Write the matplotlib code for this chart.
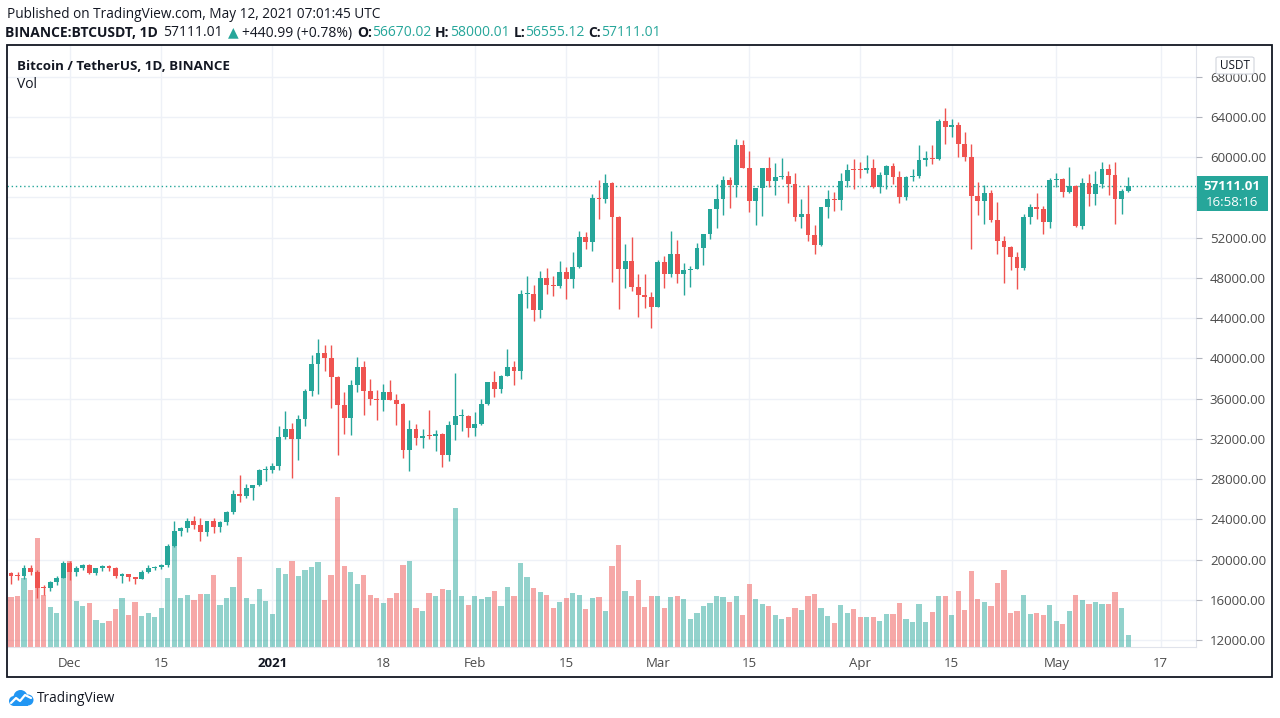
import matplotlib
matplotlib.use("Agg")
import matplotlib.pyplot as plt
import numpy as np
import pandas as pd
from matplotlib.patches import Rectangle, FancyBboxPatch, Circle
from matplotlib.ticker import FuncFormatter
from matplotlib.transforms import blended_transform_factory

# ---------------- data ----------------
DATES = pd.date_range("2020-11-22", "2021-05-12", freq="D")

OPEN = [18651, 18370, 18365, 19149, 18720, 17150, 17139, 17719, 18185, 19696,
        18765, 19205, 19422, 18650, 19148, 19359, 19167, 18324, 18541, 18254,
        18036, 18808, 19175, 19274, 19426, 21335, 22797, 23108, 23821, 23455,
        22719, 23810, 23233, 23733, 24712, 26493, 26281, 27079, 27385, 28876,
        28924, 29332, 32177, 33000, 31989, 33950, 36770, 39432, 40586, 40088,
        38150, 35410, 34049, 37371, 39145, 36737, 35995, 35824, 36622, 35901,
        35468, 30851, 32950, 32078, 32259, 32251, 32464, 30362, 33368, 34246,
        34262, 33092, 33518, 35466, 37618, 36936, 38289, 39181, 38795, 46374,
        46420, 44807, 47969, 47298, 47156, 48581, 47911, 49133, 52118, 51553,
        55906, 55841, 57413, 54087, 48892, 49676, 47074, 46277, 46103, 45134,
        49596, 48436, 50349, 48374, 48747, 48882, 50960, 52376, 54874, 55851,
        57773, 57221, 61188, 58976, 55606, 56900, 58912, 57641, 58030, 58100,
        57352, 54083, 54342, 52303, 51293, 55025, 55818, 55777, 57635, 58760,
        58740, 58720, 58950, 57051, 58202, 59129, 57991, 56000, 58034, 58102,
        59774, 59965, 59835, 63576, 62959, 63159, 61334, 60006, 56150, 55664,
        56425, 53787, 51690, 51110, 50047, 49004, 54021, 55033, 54825, 53555,
        57697, 57797, 56578, 57169, 53205, 57436, 56393, 57315, 58866, 58240,
        55816, 56670.02]
HIGH = [18750, 18773, 19418, 19484, 18915, 17457, 17853, 18344, 19863, 19888,
        19342, 19566, 19512, 19177, 19420, 19420, 19294, 18650, 18557, 18292,
        18948, 19411, 19349, 19570, 21560, 23800, 23285, 24171, 24295, 24102,
        23837, 24100, 23789, 24789, 26867, 28422, 27500, 27400, 28997, 29300,
        29600, 33300, 34778, 33600, 34360, 36939, 40365, 41950, 41380, 41350,
        38264, 36628, 37850, 40100, 39747, 37950, 36852, 37469, 37850, 36415,
        35600, 33826, 33456, 32944, 34880, 32921, 32557, 33783, 38531, 34933,
        34342, 34717, 35984, 37662, 38708, 38310, 40955, 39700, 46794, 48200,
        47310, 48678, 48985, 48150, 49707, 49083, 50600, 52618, 52530, 56368,
        57767, 58352, 57534, 54183, 51374, 52041, 48424, 48394, 46638, 49790,
        50200, 52640, 51773, 49448, 49200, 51450, 52402, 54900, 57387, 58150,
        58081, 61844, 61724, 60633, 56938, 58978, 60000, 59468, 59880, 58589,
        58430, 55830, 57200, 53230, 55073, 56700, 56559, 58405, 59368, 59800,
        59490, 60200, 59791, 58500, 59251, 59474, 58650, 58153, 58869, 61217,
        60658, 61200, 63777, 64854, 63800, 63520, 62506, 61286, 57526, 57200,
        56757, 55521, 52130, 51200, 50591, 54400, 55400, 56428, 55200, 57963,
        58458, 57911, 58981, 57200, 57911, 58360, 58650, 59500, 59300, 59500,
        56862, 58000.01]
LOW = [17610, 18000, 18018, 18500, 16188, 16438, 16865, 17517, 18179, 18001,
       18330, 18925, 18577, 18500, 18857, 18902, 18200, 17650, 17911, 17572,
       18020, 18711, 19000, 19050, 19278, 21230, 22350, 22750, 23060, 21815,
       22353, 22600, 22704, 23433, 24500, 25700, 26101, 25880, 27320, 27850,
       28625, 28946, 31962, 28130, 29900, 33288, 36300, 36500, 38720, 35111,
       30420, 32531, 32380, 36701, 34408, 35357, 33850, 34800, 35844, 33400,
       30071, 28850, 31390, 31106, 32000, 30837, 29241, 29842, 31915, 32825,
       32171, 32297, 33418, 35362, 36161, 36570, 38215, 37351, 37988, 45020,
       43727, 43994, 46400, 46202, 47014, 45920, 47003, 48947, 50901, 50710,
       53863, 55477, 47600, 44892, 47003, 46674, 44106, 45000, 43000, 45115,
       47047, 48100, 47500, 46300, 47070, 48882, 49274, 51845, 53005, 54272,
       54962, 56078, 58967, 54600, 53271, 54123, 57023, 56270, 57820, 55450,
       53650, 53000, 51700, 50427, 51214, 53950, 54691, 54800, 57013, 56873,
       57935, 58428, 56955, 56478, 56800, 57333, 55473, 55700, 57654, 57900,
       59178, 59350, 59770, 61301, 62020, 60000, 59581, 50900, 54221, 53329,
       53596, 50400, 47500, 48762, 46930, 48800, 53321, 53813, 52330, 53013,
       57037, 56035, 56435, 53057, 52900, 55200, 55241, 56900, 56235, 53400,
       54370, 56555.12]
CLOSE = [18370, 18365, 19149, 18720, 17150, 17139, 17719, 18184, 19696, 18765,
         19205, 19422, 18650, 19148, 19359, 19167, 18324, 18541, 18254, 18036,
         18808, 19175, 19273, 19426, 21335, 22797, 23108, 23821, 23455, 22719,
         23810, 23232, 23730, 24712, 26493, 26281, 27079, 27385, 28875, 28923,
         29332, 32178, 33000, 31988, 33950, 36770, 39432, 40582, 40088, 38150,
         35404, 34051, 37371, 39145, 36742, 35994, 35828, 36631, 35891, 35468,
         30850, 32945, 32078, 32259, 32254, 32467, 30366, 33364, 34252, 34262,
         33092, 33526, 35466, 37618, 36936, 38290, 39186, 38795, 46374, 46420,
         44807, 47969, 47287, 47153, 48577, 47911, 49133, 52119, 51553, 55906,
         55842, 57408, 54087, 48891, 49677, 47074, 46277, 46106, 45136, 49587,
         48441, 50349, 48374, 48751, 48882, 50971, 52375, 54884, 55851, 57773,
         57221, 61188, 58968, 55605, 56900, 58912, 57648, 58030, 58102, 57351,
         54083, 54340, 52303, 51293, 55025, 55817, 55777, 57635, 58746, 58740,
         58720, 58950, 57051, 58202, 59129, 57991, 56000, 58034, 58102, 59774,
         59965, 59835, 63588, 62959, 63159, 61334, 60006, 56150, 55633, 56425,
         53787, 51690, 51125, 50047, 49004, 54021, 55033, 54824, 53555, 57697,
         57797, 56578, 57169, 53200, 57436, 56393, 57314, 58862, 58240, 55816,
         56670, 57111.01]
# daily volume, thousand BTC
VOLUME = [49.7, 50.7, 69, 57, 109, 52.3, 40.3, 34.3, 69, 85.7,
          46.3, 41, 43.7, 27.3, 24, 26.3, 37.7, 49, 32.3, 44.7,
          30.7, 34, 29.7, 38.7, 69, 102.3, 49, 52.3, 47.3, 53.3,
          53.3, 72.3, 41.7, 49, 59.7, 89.7, 49, 43, 58.3, 46.3,
          33.3, 78.7, 73.3, 85.7, 70.7, 76.7, 80.3, 84.7, 46.7, 71.7,
          150, 81, 75, 62.7, 71.7, 52.3, 49, 43.7, 49, 54,
          81.7, 86.3, 39.3, 35.7, 54, 51.3, 58.3, 56.7, 139.3, 51.3,
          41.7, 50.7, 48, 49.7, 55.7, 41, 60, 51.3, 83.7, 69.7,
          59.3, 54.7, 52.3, 39.3, 45.3, 48.7, 54, 52.3, 37.7, 48.7,
          49.7, 35.7, 81, 102, 55.7, 50.7, 66.7, 40.3, 50.7, 51.3,
          39.3, 49.7, 50.7, 48, 28, 34, 41, 43.7, 51.3, 49.7,
          44.7, 50.7, 32.3, 62.7, 48, 42.7, 41, 32.3, 28, 29.7,
          38.7, 36.7, 50.7, 53, 39.3, 31.3, 24.3, 41.7, 34, 37.7,
          29.7, 29.7, 29.7, 26.3, 33.3, 33.3, 43.7, 28, 25.3, 42.7,
          25.3, 35, 50.7, 50.7, 32.3, 55.7, 36.7, 75.7, 48, 44.7,
          41, 63.7, 76.7, 34, 35.7, 52.3, 33.3, 34, 32.3, 41.7,
          26.3, 22.7, 35.7, 52.3, 47.3, 42.7, 45.3, 42.7, 42.7, 55,
          39.3, 12.3]

PRICE_TICKS = list(range(12000, 68001, 4000))
DATE_TICKS = ["2020-12-01", "2020-12-15", "2021-01-01", "2021-01-18",
              "2021-02-01", "2021-02-15", "2021-03-01", "2021-03-15",
              "2021-04-01", "2021-04-15", "2021-05-01", "2021-05-17"]
DATE_LABELS = ["Dec", "15", "2021", "18", "Feb", "15", "Mar", "15",
               "Apr", "15", "May", "17"]
LAST_PRICE = 57111.01
COUNTDOWN = "16:58:16"
PUBLISHED = "Published on TradingView.com, May 12, 2021 07:01:45 UTC"
TITLE = "Bitcoin / TetherUS, 1D, BINANCE"

# ---------------- style ----------------
UP = "#26a69a"
DOWN = "#ef5350"
GRID = "#eef1f7"
TXT = "#131722"
AXTXT = "#4a4a4a"
FONT = ["Open Sans", "DejaVu Sans"]
plt.rcParams["font.family"] = FONT

W, H = 1280, 718
fig = plt.figure(figsize=(W / 100, H / 100), dpi=100)
fig.patch.set_facecolor("white")


def fxy(px, py):
    return px / W, 1 - py / H


PL, PR, PT, PB = 7, 1196, 45, 647
rect = [PL / W, 1 - PB / H, (PR - PL) / W, (PB - PT) / H]
ax_v = fig.add_axes(rect, zorder=1)
ax = fig.add_axes(rect, zorder=2, sharex=ax_v)
ax.patch.set_visible(False)

n = len(DATES)
x = np.arange(n)
O = np.array(OPEN, float)
Hh = np.array(HIGH, float)
Lw = np.array(LOW, float)
C = np.array(CLOSE, float)
V = np.array(VOLUME, float)
up = C >= O
cols = np.where(up, UP, DOWN)

ax.set_xlim(-0.61, 181.39)
ax.set_ylim(11304, 71161)
ax_v.set_ylim(0, V.max() * 4.01)

tick_pos = [(pd.Timestamp(d) - DATES[0]).days for d in DATE_TICKS]

# grid (on the back axes so it sits under the volume bars)
ytr = blended_transform_factory(ax_v.transAxes, ax.transData)
for p in PRICE_TICKS:
    ax_v.plot([0, 1], [p, p], transform=ytr, color=GRID, lw=1.0, zorder=0)
for t in tick_pos:
    ax_v.axvline(t, color=GRID, lw=1.0, zorder=0)

# volume
vcols = [(0.149, 0.651, 0.604, 0.5) if u else (0.937, 0.325, 0.314, 0.5) for u in up]
ax_v.bar(x, V, width=0.8, color=vcols, linewidth=0, zorder=2)

# candles
ax.vlines(x, Lw, Hh, colors=cols, linewidth=1.0, zorder=3)
body_b = np.minimum(O, C)
body_h = np.maximum(np.abs(C - O), 110)
ax.bar(x, body_h, bottom=body_b, width=0.74, color=cols, linewidth=0, zorder=4)

ax.axhline(LAST_PRICE, color=UP, lw=1.0, ls=(0, (1, 2)), zorder=2)

# spines
for a in (ax, ax_v):
    for s in a.spines.values():
        s.set_visible(False)
ax_v.spines["right"].set_visible(True)
ax_v.spines["right"].set_color("#e0e3eb")
ax_v.spines["bottom"].set_visible(True)
ax_v.spines["bottom"].set_color("#e0e3eb")
ax_v.set_yticks([])
ax_v.tick_params(bottom=False, labelbottom=False, left=False, labelleft=False)


def price_fmt(v, p):
    # the 56000 label sits under the last-price tag in the reference
    if abs(v - 56000) < 1:
        return ""
    return f"{v:.2f}"


ax.yaxis.tick_right()
ax.set_yticks(PRICE_TICKS)
ax.yaxis.set_major_formatter(FuncFormatter(price_fmt))
ax.tick_params(axis="y", length=4, width=0.8, color="#b2b5be", labelsize=9.5,
               labelcolor=AXTXT, pad=6)
ax.set_xticks(tick_pos)
ax.set_xticklabels(DATE_LABELS)
ax.tick_params(axis="x", length=0, pad=7, labelsize=9.5, labelcolor=AXTXT)
for lab in ax.get_xticklabels():
    if lab.get_text() == "2021":
        lab.set_fontweight("bold")
        lab.set_color(TXT)

# outer frame
fig.add_artist(Rectangle(fxy(7, 677), (1272 - 7) / W, (677 - 45) / H, fill=False,
                         edgecolor=TXT, linewidth=1.3, transform=fig.transFigure, zorder=10))

# last price label
fig.add_artist(Rectangle(fxy(1197, 211), 71 / W, 35 / H, facecolor=UP, edgecolor="none",
                         transform=fig.transFigure, zorder=11))
fig.text(*fxy(1232, 186.5), f"{LAST_PRICE:.2f}", color="white", fontsize=9.5,
         fontweight="bold", ha="center", va="center", zorder=12)
fig.text(*fxy(1232, 202.5), COUNTDOWN, color="white", fontsize=9.5,
         ha="center", va="center", zorder=12)

# USDT box
fig.add_artist(FancyBboxPatch(fxy(1216, 74), 38 / W, 17 / H,
                              boxstyle="round,pad=0,rounding_size=0.002",
                              facecolor="white", edgecolor="#d1d4dc", linewidth=0.8,
                              transform=fig.transFigure, zorder=11))
fig.text(*fxy(1235, 65.5), "USDT", color=TXT, fontsize=8.5, ha="center", va="center", zorder=12)

renderer = fig.canvas.get_renderer()


def fit_text(px, py, s, target_w, **kw):
    t = fig.text(*fxy(px, py), s, fontsize=10, ha="left", va="center", **kw)
    w = t.get_window_extent(renderer).width
    t.set_fontsize(10 * target_w / w)
    return t


fit_text(7, 14, PUBLISHED, 375, color=TXT)

segments = [("BINANCE:BTCUSDT, 1D", "bold", TXT, 5),
            ("57111.01", "normal", TXT, 5),
            ("\u25B2", "normal", UP, 4),
            ("+440.99 (+0.78%)", "normal", TXT, 4),
            ("O:", "bold", TXT, 0), ("56670.02", "normal", UP, 4),
            ("H:", "bold", TXT, 0), ("58000.01", "normal", UP, 4),
            ("L:", "bold", TXT, 0), ("56555.12", "normal", UP, 4),
            ("C:", "bold", TXT, 0), ("57111.01", "normal", UP, 0)]
texts = []
total = 0
for s, wgt, c, gap in segments:
    t = fig.text(0, 0, s, fontsize=10, fontweight=wgt, color=c, ha="left", va="center",
                 family=["Open Sans", "DejaVu Sans"])
    w = t.get_window_extent(renderer).width
    texts.append((t, w, gap))
    total += w + gap
scale = 656 / total
xp = 5
for t, w, gap in texts:
    t.set_fontsize(10 * scale)
    t.set_position(fxy(xp, 33))
    xp += (w + gap) * scale

fit_text(17, 66, TITLE, 212, color=TXT, fontweight="bold")
fit_text(17, 84, "Vol", 20, color=TXT)

# TradingView logo
lax = fig.add_axes([8 / W, 1 - 708 / H, 26 / W, 22 / H])
lax.set_xlim(0, 26)
lax.set_ylim(0, 22)
lax.set_aspect("equal")
lax.axis("off")
blue = "#2196f3"
for cx, cy, r in [(6, 7, 5), (12.5, 11, 7), (20, 8, 5.5)]:
    lax.add_patch(Circle((cx, cy), r, color=blue, linewidth=0))
lax.add_patch(Rectangle((6, 2), 14, 6, color=blue, linewidth=0))
lax.plot([3, 8, 12, 17, 23], [5, 10, 7, 13, 10], color="white", lw=1.6,
         solid_capstyle="round")
fit_text(37, 698, "TradingView", 78, color=TXT)

fig.savefig("out.png", dpi=100, facecolor="white")
